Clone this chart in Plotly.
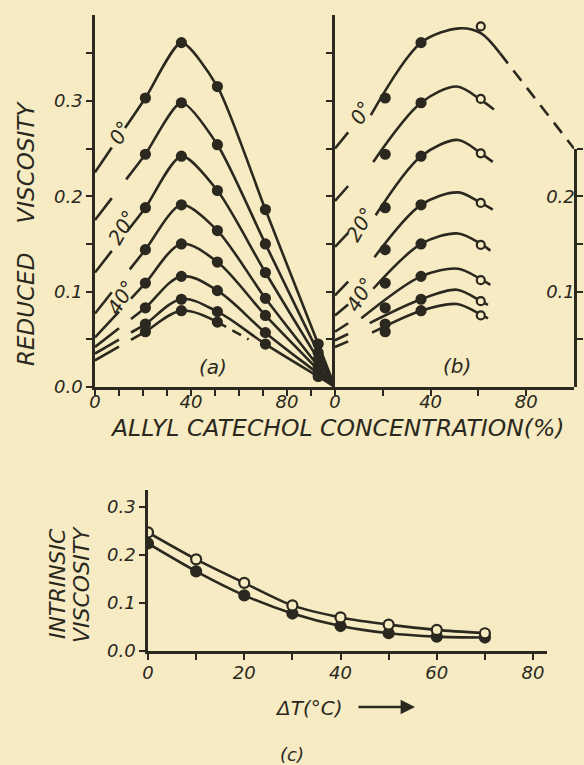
import plotly.graph_objects as go

INK = '#2b2820'
PAPER = '#f6ebc2'
FONT = 'DejaVu Sans'

# ---------------- data: panels (a) and (b) ----------------
temps = [0, 10, 20, 30, 40, 50, 60, 70]
conc_21 = 21
conc_36 = 36
visc_21 = [0.303, 0.244, 0.188, 0.144, 0.109, 0.083, 0.066, 0.058]
visc_36 = [0.361, 0.298, 0.242, 0.191, 0.150, 0.116, 0.092, 0.080]

# panel (a)
a_conc_51 = 51
a_conc_71 = 71
a_conc_93 = 93
a_visc_51 = [0.315, 0.254, 0.206, 0.164, 0.131, 0.101, 0.079, 0.068]
a_visc_71 = [0.186, 0.150, 0.120, 0.093, 0.075, 0.057, 0.045]
a_visc_93 = [0.045, 0.036, 0.029, 0.022, 0.018, 0.014, 0.011]
a_intercept = [0.225, 0.175, 0.120, 0.077, 0.052, 0.042, 0.035, 0.028]
a_conv_x, a_conv_y = 100, 0.0
a_dash_end_x = 64

# panel (b)
b_intercept = [0.250, 0.195, 0.147, 0.096, 0.075, 0.058, 0.049, 0.042]
b_start_x = [15, 16, 17, 16.5, 16, 11, 14.5, 15.5]
b_start_y = [0.285, 0.236, 0.180, 0.136, 0.103, 0.072, 0.067, 0.057]
b_peak_x = [52, 51, 51.5, 51.5, 51.5, 51.5, 51, 51]
b_peak_y = [0.376, 0.315, 0.259, 0.204, 0.161, 0.124, 0.102, 0.087]
b_open_x = 61
b_open_y = [0.378, 0.302, 0.245, 0.193, 0.149, 0.112, 0.090, 0.075]
b_curve_61 = [0.371, 0.301, 0.245, 0.193, 0.150, 0.113, 0.090, 0.076]
b_end_x = [69, 66.5, 66, 66, 65, 65, 64, 64]
b_end_y = [0.350, 0.291, 0.236, 0.186, 0.143, 0.107, 0.086, 0.072]
b_dash_to_x, b_dash_to_y = 100, 0.25

# ---------------- data: panel (c) ----------------
delta_t = [0, 10, 20, 30, 40, 50, 60, 70]
intr_open = [0.247, 0.191, 0.142, 0.095, 0.070, 0.055, 0.044, 0.037]
intr_filled = [0.224, 0.166, 0.116, 0.078, 0.052, 0.037, 0.030, 0.028]

# ---------------- styles ----------------
a_stub_end = [7, 7, 7, 7, 10, 10, 10, 10]
a_main_start = [12.5, 13, 13.5, 14.5, 15, 15, 15, 15]
a_smooth = [0.65, 0.7, 0.75, 0.8, 0.9, 1.0, 1.0, 1.0]
b_stub_end = 5.5
LW = 2.6
MS = 9


def px(x):
    return x / 584


def py(y):
    return 1 - y / 765


fig = go.Figure()


def line(x, y, xa, ya, dash='solid', shape='spline', smooth=0.6):
    fig.add_trace(go.Scatter(x=x, y=y, xaxis=xa, yaxis=ya, mode='lines',
                             line=dict(color=INK, width=LW, dash=dash, shape=shape, smoothing=smooth),
                             showlegend=False, hoverinfo='skip'))


def marks(x, y, xa, ya, filled=True, size=MS):
    fig.add_trace(go.Scatter(x=x, y=y, xaxis=xa, yaxis=ya, mode='markers',
                             marker=dict(size=size, color=INK if filled else PAPER,
                                         line=dict(color=INK, width=2.2)),
                             showlegend=False, hoverinfo='skip'))


# ---- panel (a)
for k in range(8):
    b = a_intercept[k]
    s = (visc_21[k] - b) / conc_21
    line([0, a_stub_end[k]], [b, b + s * a_stub_end[k]], 'x', 'y', shape='linear')
    ms = a_main_start[k]
    if k < 7:
        xs = [ms, conc_21, conc_36, a_conc_51, a_conc_71, a_conc_93, a_conv_x]
        ys = [b + s * ms, visc_21[k], visc_36[k], a_visc_51[k], a_visc_71[k], a_visc_93[k], a_conv_y]
        line(xs, ys, 'x', 'y', smooth=a_smooth[k])
        marks([conc_21, conc_36, a_conc_51, a_conc_71, a_conc_93],
              [visc_21[k], visc_36[k], a_visc_51[k], a_visc_71[k], a_visc_93[k]], 'x', 'y')
    else:
        xs = [ms, conc_21, conc_36, a_conc_51]
        ys = [b + s * ms, visc_21[k], visc_36[k], a_visc_51[k]]
        line(xs, ys, 'x', 'y', smooth=a_smooth[k])
        yend = a_visc_51[k] + (a_conv_y - a_visc_51[k]) * (a_dash_end_x - a_conc_51) / (a_conv_x - a_conc_51)
        line([a_conc_51, a_dash_end_x], [a_visc_51[k], yend], 'x', 'y', dash='10px,7px', shape='linear')
        marks([conc_21, conc_36, a_conc_51], [visc_21[k], visc_36[k], a_visc_51[k]], 'x', 'y')

# ---- panel (b)
for k in range(8):
    b = b_intercept[k]
    s = (visc_36[k] - b) / conc_36
    line([0, b_stub_end], [b, b + s * b_stub_end], 'x2', 'y2', shape='linear')
    xs = [b_start_x[k], conc_36, b_peak_x[k], b_open_x, b_end_x[k]]
    ys = [b_start_y[k], visc_36[k], b_peak_y[k], b_curve_61[k], b_end_y[k]]
    line(xs, ys, 'x2', 'y2', smooth=0.9)
    if k == 0:
        line([b_end_x[k], b_dash_to_x], [b_end_y[k], b_dash_to_y], 'x2', 'y2',
             dash='13px,9px', shape='linear')
    marks([conc_21, conc_36], [visc_21[k], visc_36[k]], 'x2', 'y2')
    marks([b_open_x], [b_open_y[k]], 'x2', 'y2', filled=False, size=8)

fig.add_trace(go.Scatter(x=[], y=[], xaxis='x2', yaxis='y3', showlegend=False))

# ---- panel (c)
line(delta_t, intr_open, 'x3', 'y4', smooth=0.8)
line(delta_t, intr_filled, 'x3', 'y4', smooth=0.8)
marks(delta_t, intr_filled, 'x3', 'y4', size=10)
marks(delta_t, intr_open, 'x3', 'y4', filled=False, size=10)

# ---------------- axes ----------------
tickfont = dict(family=FONT, size=18, color=INK, style='italic')
common = dict(showgrid=False, zeroline=False, showline=True, linecolor=INK, linewidth=2.6,
              ticks='outside', tickcolor=INK, tickwidth=2.2, ticklen=6, tickfont=tickfont,
              automargin=False, fixedrange=True)

ydom = [py(387), py(15)]
yr = [0, 0.39]
right_top = 0.25
ydom3 = [ydom[0], ydom[0] + (ydom[1] - ydom[0]) * right_top / yr[1]]

a_xt = list(range(0, 101, 10))
a_xl = ['0' if v == 0 else ('40' if v == 40 else ('80' if v == 80 else '')) for v in a_xt]
b_xt = list(range(0, 101, 20))
b_xl = ['0' if v == 0 else ('40' if v == 40 else ('80' if v == 80 else '')) for v in b_xt]
y_t = [0, 0.05, 0.1, 0.15, 0.2, 0.25, 0.3, 0.35]
y_l = ['0.0', '', '0.1', '', '0.2', '', '0.3', '']
r_t = [0.05, 0.1, 0.15, 0.2, 0.25]
r_l = ['', '0.1', '', '0.2', '']

fig.update_layout(
    xaxis=dict(common, domain=[px(95), px(335)], range=[0, 100], anchor='y',
               tickvals=a_xt, ticktext=a_xl, ticklabelstandoff=-9),
    yaxis=dict(common, domain=ydom, range=yr, anchor='x', tickvals=y_t, ticktext=y_l),
    xaxis2=dict(common, domain=[px(335), px(574)], range=[0, 100], anchor='y2',
                tickvals=b_xt, ticktext=b_xl, ticklabelstandoff=-9),
    yaxis2=dict(common, domain=ydom, range=yr, anchor='x2', tickvals=y_t[1:],
                ticktext=['' for _ in y_t[1:]]),
    yaxis3=dict(common, domain=ydom3, range=[0, right_top], anchor='x2', side='right',
                tickvals=r_t, ticktext=r_l, ticklabelposition='inside'),
    xaxis3=dict(common, domain=[px(148), px(547)], range=[0, 82.9], anchor='y4',
                tickvals=list(range(0, 81, 10)),
                ticktext=['0', '', '20', '', '40', '', '60', '', '80'], ticklabelstandoff=-2),
    yaxis4=dict(common, domain=[py(651), py(490)], range=[0, 0.3354], anchor='x3',
                tickvals=[0, 0.1, 0.2, 0.3], ticktext=['0.0', '0.1', '0.2', '0.3']),
)


def label(text, x, y, size=20, angle=0, xref='paper', yref='paper'):
    fig.add_annotation(text=text, x=x, y=y, xref=xref, yref=yref, showarrow=False,
                       textangle=angle, xanchor='center', yanchor='middle',
                       font=dict(family=FONT, size=size, color=INK, style='italic'))


label('REDUCED    VISCOSITY', px(26), py(234), size=23, angle=-90)
label('ALLYL CATECHOL CONCENTRATION(%)', px(337), py(428), size=23.5)
label('(a)', px(213), py(367), size=20)
label('(b)', px(457), py(366), size=20)

label('0°', px(120), py(133), size=20, angle=-60)
label('20°', px(122), py(228), size=20, angle=-60)
label('40°', px(121), py(298), size=20, angle=-60)
label('0°', px(361), py(113), size=20, angle=-60)
label('20°', px(360), py(225), size=20, angle=-60)
label('40°', px(360), py(295), size=20, angle=-60)

label('INTRINSIC', px(57), py(584), size=22, angle=-90)
label('VISCOSITY', px(81), py(585), size=22, angle=-90)
label('ΔT(°C)', px(309), py(708), size=20)
fig.add_annotation(text='', x=px(415), y=py(707), xref='paper', yref='paper',
                   ax=-58, ay=0, showarrow=True, arrowhead=2, arrowsize=1.2,
                   arrowwidth=2.4, arrowcolor=INK)
label('(c)', px(292), py(754), size=18)

fig.update_layout(width=584, height=765, margin=dict(l=0, r=0, t=0, b=0),
                  paper_bgcolor=PAPER, plot_bgcolor='rgba(0,0,0,0)', template='none',
                  showlegend=False)

fig.write_html('out.html', config={'displayModeBar': False},
               post_script="document.body.style.margin='0';document.body.style.background='%s';" % PAPER)
